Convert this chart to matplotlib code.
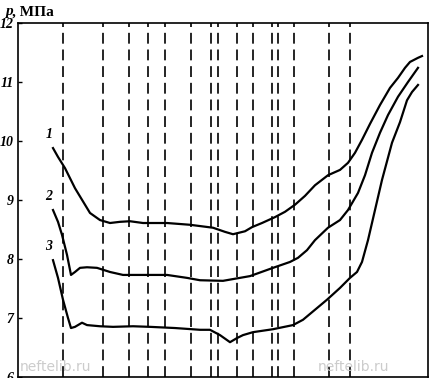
import matplotlib
matplotlib.use("Agg")
import matplotlib.pyplot as plt

# x in arbitrary horizontal units (no x scale shown)
x1 = [53, 58, 65, 75, 85, 90, 100, 110, 120, 130, 143, 167, 190, 213, 225, 233, 245, 252, 262, 275,
      285, 295, 305, 315, 328, 340, 348, 355, 362, 370, 380, 390, 398, 405, 410, 418, 422]
p1 = [9.88, 9.73, 9.54, 9.20, 8.92, 8.78, 8.66, 8.61, 8.63, 8.64, 8.61, 8.61, 8.58, 8.53, 8.46, 8.42,
      8.47, 8.54, 8.61, 8.71, 8.80, 8.92, 9.07, 9.25, 9.42, 9.51, 9.63, 9.80, 10.02, 10.29, 10.61,
      10.90, 11.07, 11.24, 11.34, 11.41, 11.44]

x2 = [53, 58, 62, 67, 71, 75, 80, 87, 97, 110, 123, 145, 167, 187, 200, 223, 250, 273, 290, 298,
      307, 315, 328, 340, 348, 358, 365, 372, 380, 388, 398, 408, 418]
p2 = [8.83, 8.63, 8.41, 8.07, 7.73, 7.78, 7.85, 7.86, 7.85, 7.78, 7.73, 7.73, 7.73, 7.68, 7.64, 7.63,
      7.71, 7.85, 7.95, 8.02, 8.15, 8.32, 8.53, 8.66, 8.83, 9.12, 9.42, 9.80, 10.14, 10.44, 10.75,
      11.00, 11.24]

x3 = [53, 58, 63, 68, 71, 75, 82, 87, 100, 113, 133, 150, 175, 200, 210, 220, 230, 237, 243, 253,
      273, 293, 303, 315, 327, 340, 350, 357, 362, 368, 375, 382, 392, 400, 407, 412, 418]
p3 = [7.98, 7.68, 7.31, 7.00, 6.83, 6.85, 6.92, 6.88, 6.86, 6.85, 6.86, 6.85, 6.83, 6.80, 6.80, 6.71,
      6.59, 6.66, 6.71, 6.76, 6.81, 6.88, 6.97, 7.14, 7.31, 7.51, 7.68, 7.78, 7.95, 8.32, 8.83, 9.34,
      9.97, 10.32, 10.69, 10.83, 10.95]

vlines = [63, 103, 129, 148, 165, 191, 211, 218, 237, 253, 272, 278, 294, 329, 350]
yticks = [6, 7, 8, 9, 10, 11, 12]
ytick_labels = ["6", "7", "8", "9", "10", "11", "12"]
curve_labels = ["1", "2", "3"]

fig = plt.figure(figsize=(4.29, 3.78), dpi=100)
ax = fig.add_axes([18 / 429, 1 / 378, 410 / 429, 354 / 378])
ax.set_xlim(18, 428)
ax.set_ylim(6, 12)

for xv in vlines:
    ax.axvline(xv, color="black", lw=1.2, dashes=(6.5, 3.5))

for xs, ps in [(x1, p1), (x2, p2), (x3, p3)]:
    ax.plot(xs, ps, color="black", lw=1.6, solid_joinstyle="round")

serif_it = dict(family="Liberation Serif", style="italic", weight="bold")
for lab, xs, ps in zip(curve_labels, [x1, x2, x3], [p1, p2, p3]):
    ax.text(xs[0] - 4, ps[0] + 0.12, lab, ha="center", va="bottom", fontsize=10, **serif_it)

ax.set_xticks([])
ax.set_yticks(yticks)
ax.set_yticklabels(ytick_labels, fontdict=dict(fontsize=10, **serif_it))
ax.tick_params(axis="y", direction="in", length=3, width=1, pad=3)
for s in ax.spines.values():
    s.set_linewidth(1.2)

fig.text(5 / 429, 1 - 12 / 378, "p", ha="left", va="center", fontsize=11, **serif_it)
fig.text(12 / 429, 1 - 12 / 378, ", МПа", ha="left", va="center", fontsize=11,
         family="Liberation Serif", weight="bold")

fig.text(20 / 429, 1 - 367 / 378, "neftelib.ru", fontsize=10, color="#cccccc", va="center", ha="left")
fig.text(318 / 429, 1 - 367 / 378, "neftelib.ru", fontsize=10, color="#cccccc", va="center", ha="left")

fig.savefig("out.png", dpi=100)
